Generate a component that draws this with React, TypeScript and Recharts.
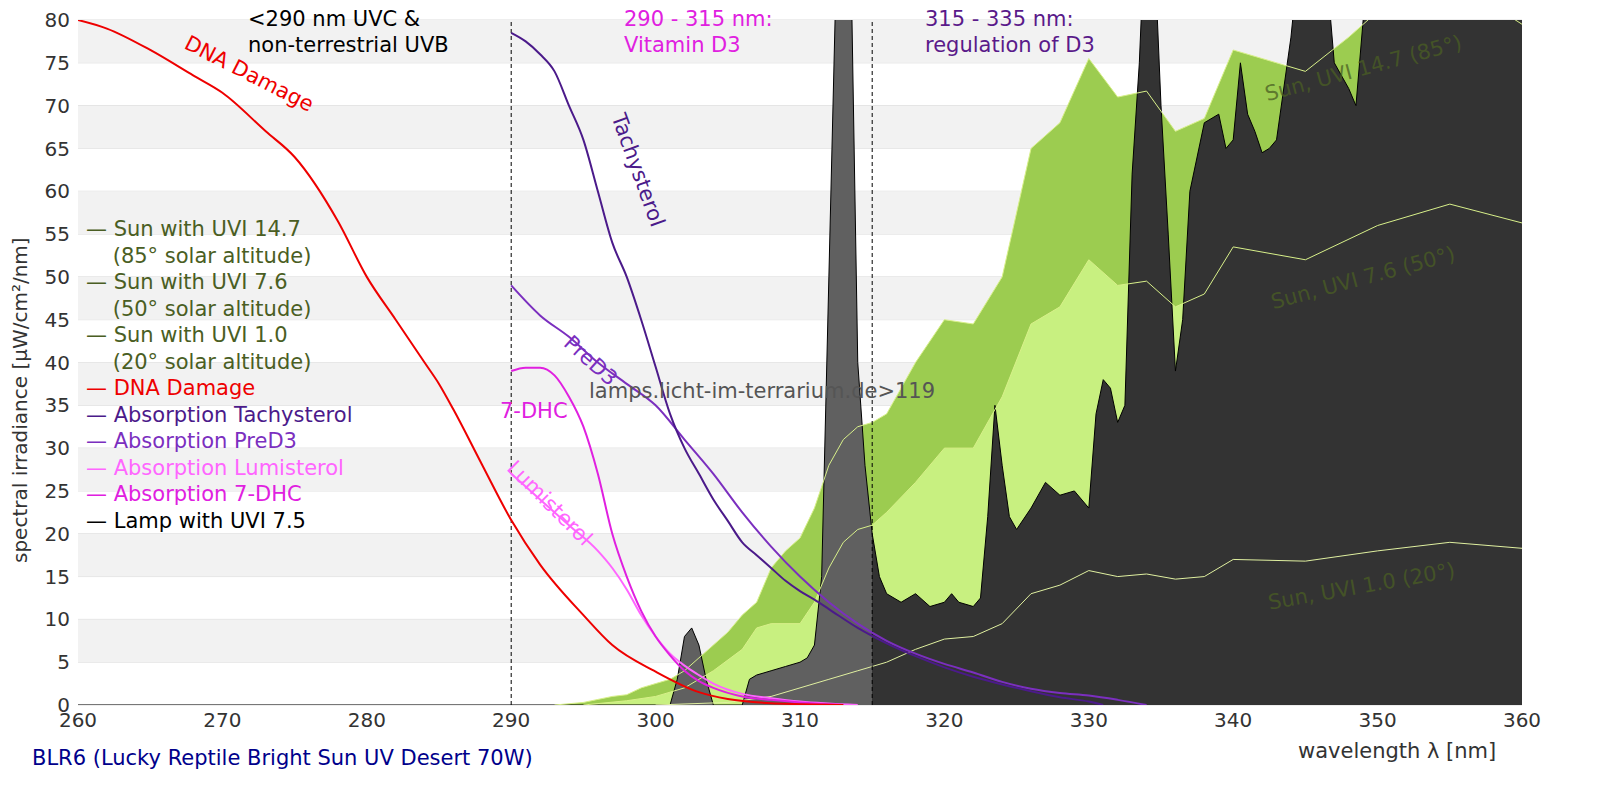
import { ComposedChart, Area, Line, XAxis, YAxis, ReferenceArea, ReferenceLine, CartesianGrid } from "recharts";

// [wavelength nm, value]
const sun147 = [[293,0],[295,0.3],[297,1],[298,1.2],[299,2],[300,2.5],[301,3],[302,4],[303,5.5],[304,7],[305,8.5],[306,10.5],[307,12],[308,16],[309,18],[310,19.5],[311,23],[312,28],[313,31],[314,32.5],[315,33],[316,34],[318,40],[320,45],[322,44.5],[324,50],[326,65],[328,68],[330,75.5],[332,71],[334,71.7],[336,67],[338,68.5],[340,76.5],[345,74],[348,78],[350,81],[355,85],[360,79.5]];
const sun76 = [[295,0],[298,0.5],[300,1],[302,2],[304,4],[306,6.5],[307,9],[308,9.5],[310,9.5],[311,12],[312,16],[313,19],[314,20.5],[315,21],[316,22.5],[318,26],[320,30],[322,30],[324,36],[326,44.5],[328,46.5],[330,52],[332,49],[334,49.5],[336,46.5],[338,48],[340,53.5],[345,52],[350,56],[355,58.5],[360,56.3]];
const sun10 = [[300,0],[305,0.3],[308,1],[310,2],[312,3],[314,4],[316,5],[318,6.5],[320,7.7],[322,8],[324,9.5],[326,13],[328,14],[330,15.7],[332,15],[334,15.3],[336,14.7],[338,15],[340,17],[345,16.8],[350,18],[355,19],[360,18.3]];
const lamp = [[260,0],[301,0],[301.5,3],[302,8],[302.5,9],[303,7],[303.5,3],[304,0],[306,0],[306.5,3],[307,3.5],[308,4],[309,4.5],[310,5],[310.5,5.5],[311,7],[311.5,15],[312,50],[312.5,85],[313,95],[313.5,90],[314,40],[314.5,28],[315,20],[315.5,15],[316,13],[317,12],[318,13],[319,11.5],[320,12],[320.5,13],[321,12],[322,11.5],[322.5,12.5],[323,22],[323.5,35],[324,28],[324.5,22],[325,20.5],[326,23],[327,26],[328,24.5],[329,25],[330,23],[330.5,34],[331,38],[331.5,37],[332,33],[332.5,35],[333,62],[333.5,75],[334,95],[334.5,90],[335,70],[335.5,55],[336,39],[336.5,45],[337,60],[338,68],[339,69],[339.5,65],[340,66],[340.5,75],[341,69],[341.5,67],[342,64.5],[342.5,65],[343,66],[344,78],[345,95],[346,95],[346.5,85],[347,75],[348,72],[348.5,70],[349,80],[349.5,95],[350,100],[360,100]];
const dna = [[260,80],[262,79],[265,76.5],[268,73.5],[270,71.5],[273,67],[275,64],[278,56.5],[280,50],[282,45],[284,40],[285,37.5],[286,34.5],[288,28],[290,21.6],[292,16.4],[295,10.5],[297,7],[300,3.9],[303,1.5],[305,0.7],[308,0.2],[310,0.1],[313,0]];
const tachy = [[290,78.5],[291,77.5],[292,76],[293,74],[294,70],[295,66],[296,60],[297,54],[298,50],[299,45],[300,39.5],[301,34],[302,30],[303,27],[304,24],[305,21.5],[306,19],[307,17.5],[308,16],[309,14.5],[310,13.3],[311,12.3],[312,11.2],[314,9],[316,7.2],[318,5.7],[320,4.4],[322,3.3],[324,2.4],[326,1.6],[328,0.9],[330,0.4],[331,0]];
const pred3 = [[290,49],[292,45.5],[294,43],[296,40],[298,37.5],[300,35],[302,31],[304,27],[306,22.5],[308,18.5],[310,15],[312,12],[314,9.5],[316,7.5],[318,6],[320,4.8],[322,3.8],[324,2.7],[326,1.9],[328,1.4],[330,1.1],[332,0.6],[334,0]];
const dhc = [[290,39],[291,39.4],[292,39.4],[293,38.5],[294,36],[295,32.5],[296,27],[297,20],[298,15],[299,11],[300,8],[301,5.8],[302,4],[303,2.8],[304,2],[306,1],[308,0.6],[310,0.3],[313,0]];
const lumi = [[290,27],[292,24],[294,21],[296,18],[297,16],[298,13.5],[299,10.5],[300,8],[301,6],[302,4.6],[303,3.5],[304,2.5],[306,1.3],[308,0.8],[310,0.4],[314,0]];

const xTicks = [260, 270, 280, 290, 300, 310, 320, 330, 340, 350, 360];
const yTicks = [0, 5, 10, 15, 20, 25, 30, 35, 40, 45, 50, 55, 60, 65, 70, 75, 80];

const rows = (a: number[][]) => a.map(([x, y]) => ({ x, y }));

const legend = [
  { t: "— Sun with UVI 14.7", c: "#4a5e23" },
  { t: "    (85° solar altitude)", c: "#4a5e23" },
  { t: "— Sun with UVI 7.6", c: "#4a5e23" },
  { t: "    (50° solar altitude)", c: "#4a5e23" },
  { t: "— Sun with UVI 1.0", c: "#4a5e23" },
  { t: "    (20° solar altitude)", c: "#4a5e23" },
  { t: "— DNA Damage", c: "#ee0000" },
  { t: "— Absorption Tachysterol", c: "#4b1a8a" },
  { t: "— Absorption PreD3", c: "#7b2fbf" },
  { t: "— Absorption Lumisterol", c: "#ff66ff" },
  { t: "— Absorption 7-DHC", c: "#e020e0" },
  { t: "— Lamp with UVI 7.5", c: "#000" },
];

const font = "'DejaVu Sans', sans-serif";

function Txt({ x, y, c, size = 20, rot = 0, children }: any) {
  return (
    <div style={{ position: "absolute", left: x, top: y, color: c, fontSize: size, whiteSpace: "pre", transform: `rotate(${rot}deg)`, transformOrigin: "left top", lineHeight: 1.25 }}>
      {children}
    </div>
  );
}

export default function App() {
  return (
    <div style={{ position: "absolute", left: 0, top: 0, width: 1600, height: 800, background: "#fff", fontFamily: font }}>
      <ComposedChart width={1600} height={800} margin={{ top: 20, right: 78, bottom: 65, left: 30 }}>
        <defs>
          <linearGradient id="lampFill" x1="0" x2="1" y1="0" y2="0">
            <stop offset="0.55" stopColor="#606060" />
            <stop offset="0.55" stopColor="#333333" />
          </linearGradient>
        </defs>
        {yTicks.filter((v) => v % 10 === 5).map((v) => (
          <ReferenceArea key={v} x1={260} x2={360} y1={v} y2={v + 5} fill="#f2f2f2" fillOpacity={1} stroke="none" />
        ))}
        <CartesianGrid vertical={false} stroke="#dddddd" />
        <XAxis type="number" dataKey="x" domain={[260, 360]} ticks={xTicks} allowDataOverflow axisLine={false} tickLine={false} tick={{ fill: "#333", fontSize: 20, fontFamily: font }} />
        <YAxis type="number" domain={[0, 80]} ticks={yTicks} allowDataOverflow width={48} axisLine={false} tickLine={false} interval={0} tick={{ fill: "#333", fontSize: 20, fontFamily: font }} />
        <Area data={rows(sun147)} dataKey="y" type="linear" fill="#9ccc50" fillOpacity={1} stroke="none" isAnimationActive={false} />
        <Area data={rows(sun76)} dataKey="y" type="linear" fill="#c8f080" fillOpacity={1} stroke="none" isAnimationActive={false} />
        <Area data={rows(lamp)} dataKey="y" type="linear" fill="url(#lampFill)" fillOpacity={1} stroke="#000" strokeWidth={1} isAnimationActive={false} />
        <Line data={rows(sun147)} dataKey="y" type="linear" stroke="#d8f08a" strokeWidth={1} dot={false} isAnimationActive={false} />
        <Line data={rows(sun76)} dataKey="y" type="linear" stroke="#d8f08a" strokeWidth={1} dot={false} isAnimationActive={false} />
        <Line data={rows(sun10)} dataKey="y" type="linear" stroke="#e0f0a0" strokeWidth={1} dot={false} isAnimationActive={false} />
        <ReferenceLine x={290} stroke="#000" strokeDasharray="4 3" />
        <ReferenceLine x={315} stroke="#000" strokeDasharray="4 3" />
        <Line data={rows(lumi)} dataKey="y" type="monotone" stroke="#ff66ff" strokeWidth={2} dot={false} isAnimationActive={false} />
        <Line data={rows(dhc)} dataKey="y" type="monotone" stroke="#e020e0" strokeWidth={2} dot={false} isAnimationActive={false} />
        <Line data={rows(pred3)} dataKey="y" type="monotone" stroke="#7b2fbf" strokeWidth={2} dot={false} isAnimationActive={false} />
        <Line data={rows(tachy)} dataKey="y" type="monotone" stroke="#4b1a8a" strokeWidth={2} dot={false} isAnimationActive={false} />
        <Line data={rows(dna)} dataKey="y" type="monotone" stroke="#ee0000" strokeWidth={2} dot={false} isAnimationActive={false} />
      </ComposedChart>

      <div style={{ position: "absolute", left: 86, top: 216 }}>
        {legend.map((l, i) => (
          <div key={i} style={{ color: l.c, fontSize: 21, lineHeight: "26.5px", whiteSpace: "pre" }}>{l.t}</div>
        ))}
      </div>

      <Txt x={248} y={6} c="#000" size={21}>{"<290 nm UVC &\nnon-terrestrial UVB"}</Txt>
      <Txt x={624} y={6} c="#e020e0" size={21}>{"290 - 315 nm:\nVitamin D3"}</Txt>
      <Txt x={925} y={6} c="#5a1a8a" size={21}>{"315 - 335 nm:\nregulation of D3"}</Txt>
      <Txt x={192} y={30} c="#ee0000" rot={27} size={21}>DNA Damage</Txt>
      <Txt x={630} y={110} c="#4b1a8a" rot={70} size={21}>Tachysterol</Txt>
      <Txt x={576} y={330} c="#7b2fbf" rot={42} size={21}>PreD3</Txt>
      <Txt x={500} y={398} c="#e020e0" size={21}>7-DHC</Txt>
      <Txt x={520} y={455} c="#ff66ff" rot={45} size={21}>Lumisterol</Txt>
      <Txt x={589} y={378} c="#555" size={21}>lamps.licht-im-terrarium.de&gt;119</Txt>
      <Txt x={1262} y={82} c="rgba(74,94,35,0.75)" rot={-15} size={21}>Sun, UVI 14.7 (85°)</Txt>
      <Txt x={1268} y={290} c="rgba(74,94,35,0.75)" rot={-15} size={21}>Sun, UVI 7.6 (50°)</Txt>
      <Txt x={1266} y={590} c="rgba(74,94,35,0.75)" rot={-10} size={21}>Sun, UVI 1.0 (20°)</Txt>
      <Txt x={1298} y={738} c="#333" size={21}>wavelength λ [nm]</Txt>
      <Txt x={32} y={745} c="#00008b" size={21}>BLR6 (Lucky Reptile Bright Sun UV Desert 70W)</Txt>
      <div style={{ position: "absolute", left: 8, top: 563, color: "#333", fontSize: 20, whiteSpace: "pre", transform: "rotate(-90deg)", transformOrigin: "left top" }}>
        spectral irradiance [µW/cm²/nm]
      </div>
    </div>
  );
}
